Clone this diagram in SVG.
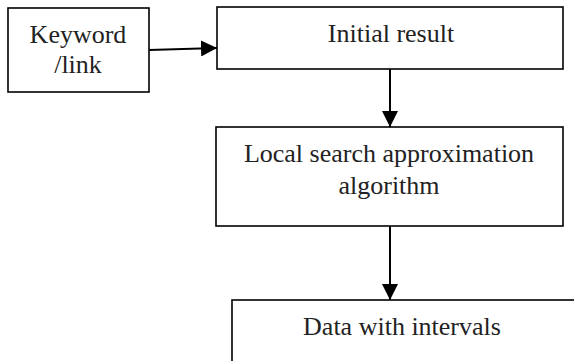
<svg xmlns="http://www.w3.org/2000/svg" width="574" height="361" viewBox="0 0 574 361">
  <style>
    .box { fill: #ffffff; stroke: #000000; stroke-width: 1.6; }
    .lbl { font-family: 'Liberation Serif', 'Times New Roman', serif; font-size: 26px; fill: #222222; text-anchor: middle; }
    .edge { stroke: #000000; stroke-width: 2; fill: none; marker-end: url(#head); }
  </style>
  <defs>
    <marker id="head" viewBox="0 0 10 10" refX="10" refY="5" markerWidth="16" markerHeight="16" markerUnits="userSpaceOnUse" orient="auto">
      <path d="M0,0 L10,5 L0,10 Z" fill="#000000"/>
    </marker>
  </defs>
  <rect width="574" height="361" fill="#ffffff"/>

  <g id="keyword">
    <rect class="box" x="8" y="8" width="141" height="84"/>
    <text class="lbl" x="78" y="43">Keyword</text>
    <text class="lbl" x="78" y="73">/link</text>
  </g>

  <g id="initial">
    <rect class="box" x="217" y="7" width="346" height="62"/>
    <text class="lbl" x="391" y="42">Initial result</text>
  </g>

  <g id="local">
    <rect class="box" x="216" y="127" width="347" height="99"/>
    <text class="lbl" x="389" y="162">Local search approximation</text>
    <text class="lbl" x="389" y="194">algorithm</text>
  </g>

  <g id="data">
    <rect class="box" x="232" y="300" width="350" height="80"/>
    <text class="lbl" x="402" y="335">Data with intervals</text>
  </g>

  <g id="connectors">
    <line class="edge" x1="149" y1="50" x2="217" y2="48"/>
    <line class="edge" x1="390" y1="69" x2="390" y2="127"/>
    <line class="edge" x1="390" y1="226" x2="390" y2="300"/>
  </g>
</svg>
